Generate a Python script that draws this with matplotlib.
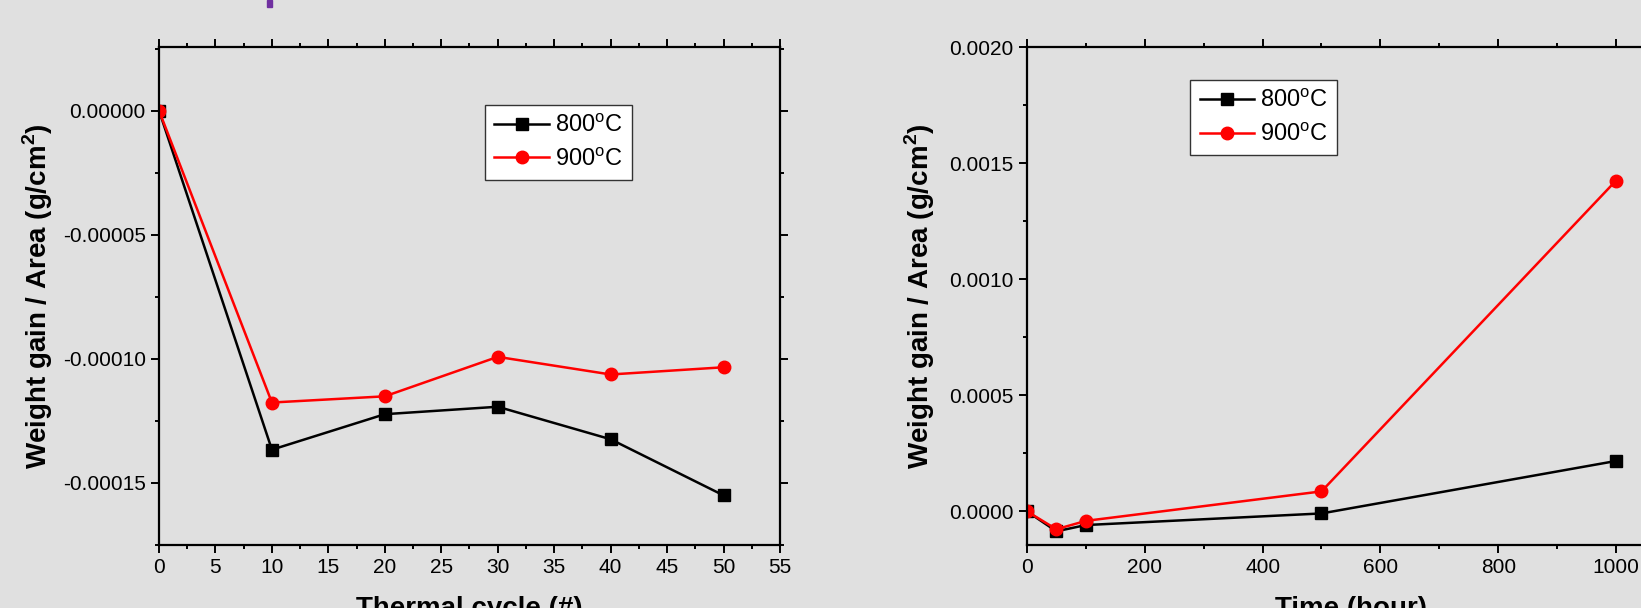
import matplotlib
matplotlib.use('Agg')
import matplotlib.pyplot as plt
from matplotlib.patches import Rectangle
from matplotlib.ticker import MultipleLocator, FormatStrFormatter

plt.rcParams['font.family'] = ['Liberation Sans', 'DejaVu Sans']
plt.rcParams['mathtext.fontset'] = 'custom'
plt.rcParams['mathtext.rm'] = 'Liberation Sans'
plt.rcParams['mathtext.bf'] = 'Liberation Sans:bold'

# datos ciclos termicos
ciclos = [0, 10, 20, 30, 40, 50]
ciclos_800 = [0.0, -0.0001366, -0.0001223, -0.0001193, -0.0001324, -0.000155]
ciclos_900 = [0.0, -0.0001176, -0.0001151, -0.0000992, -0.0001063, -0.0001034]

# datos isotermicos
horas = [0, 50, 100, 500, 1000]
horas_800 = [0.0, -0.000086, -0.000059, -0.000009, 0.000217]
horas_900 = [0.0, -0.000077, -0.000041, 0.000086, 0.001425]

etiquetas = ['800$^\\mathrm{o}$C', '900$^\\mathrm{o}$C']
fondo = '#e0e0e0'

fig = plt.figure(figsize=(16.41, 6.08), dpi=100, facecolor=fondo)
ax1 = fig.add_axes([0.0969, 0.1036, 0.3784, 0.819])
ax2 = fig.add_axes([0.6258, 0.1036, 0.3949, 0.819])

def estilo(ax):
    ax.set_facecolor(fondo)
    for s in ax.spines.values():
        s.set_linewidth(1.6)
    ax.tick_params(which='both', direction='out', top=True, right=True,
                   labelsize=15, width=1.4)
    ax.tick_params(which='major', length=6)
    ax.tick_params(which='minor', length=3)

def leyenda(ax, x, y):
    ax.legend(loc='upper left', bbox_to_anchor=(x, y), fontsize=17,
              fancybox=False, edgecolor='#333333', framealpha=1, handlelength=2.3,
              handletextpad=0.25, borderpad=0.4, labelspacing=0.45, borderaxespad=0)

# grafico 1
ax1.plot(ciclos, ciclos_800, '-s', color='black', lw=1.8, ms=8, label=etiquetas[0])
ax1.plot(ciclos, ciclos_900, '-o', color='red', lw=1.8, ms=9, label=etiquetas[1])
ax1.set_xlim(0, 55)
ax1.set_ylim(-0.000175, 0.0000256)
ax1.xaxis.set_major_locator(MultipleLocator(5))
ax1.xaxis.set_minor_locator(MultipleLocator(2.5))
ax1.yaxis.set_major_locator(MultipleLocator(0.00005))
ax1.yaxis.set_minor_locator(MultipleLocator(0.000025))
ax1.yaxis.set_major_formatter(FormatStrFormatter('%.5f'))
estilo(ax1)
ax1.set_xlabel('Thermal cycle (#)', fontsize=20, fontweight='bold')
ax1.set_ylabel('Weight gain / Area (g/cm$^\\mathbf{2}$)', fontsize=20, fontweight='bold')
ax1.xaxis.set_label_coords(0.5, -0.103)
ax1.yaxis.set_label_coords(-0.1675, 0.5)
leyenda(ax1, 0.525, 0.884)

# grafico 2
ax2.plot(horas, horas_800, '-s', color='black', lw=1.8, ms=8, label=etiquetas[0])
ax2.plot(horas, horas_900, '-o', color='red', lw=1.8, ms=9, label=etiquetas[1])
ax2.set_xlim(0, 1100)
ax2.set_ylim(-0.000145, 0.0020)
ax2.xaxis.set_major_locator(MultipleLocator(200))
ax2.xaxis.set_minor_locator(MultipleLocator(100))
ax2.yaxis.set_major_locator(MultipleLocator(0.0005))
ax2.yaxis.set_minor_locator(MultipleLocator(0.00025))
ax2.yaxis.set_major_formatter(FormatStrFormatter('%.4f'))
estilo(ax2)
ax2.set_xlabel('Time (hour)', fontsize=20, fontweight='bold')
ax2.set_ylabel('Weight gain / Area (g/cm$^\\mathbf{2}$)', fontsize=20, fontweight='bold')
ax2.xaxis.set_label_coords(0.5, -0.103)
ax2.yaxis.set_label_coords(-0.139, 0.5)
leyenda(ax2, 0.252, 0.934)

# marca violeta arriba
fig.patches.append(Rectangle((267 / 1641, 1 - 7 / 608), 5 / 1641, 7 / 608,
                             transform=fig.transFigure, color='#7030a0'))

fig.savefig('out.png', dpi=100, facecolor=fondo)
